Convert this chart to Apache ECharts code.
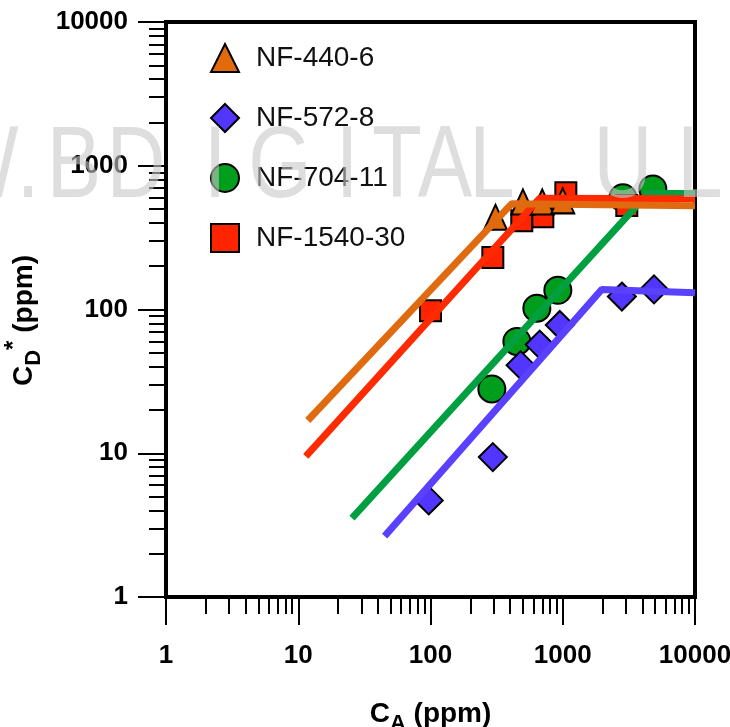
<!DOCTYPE html>
<html><head><meta charset="utf-8">
<script src="https://cdn.jsdelivr.net/npm/echarts@6/dist/echarts.min.js"></script>
<style>html,body{margin:0;padding:0;background:#fff}#c{width:730px;height:727px}</style>
</head><body><div id="c"></div>
<script>
// ---- data ----
const seriesNames = ['NF-440-6', 'NF-572-8', 'NF-704-11', 'NF-1540-30'];
const nf440Points  = [[310, 438], [500, 560], [700, 560], [1000, 570]];
const nf572Points  = [[97, 4.7], [296, 9.4], [480, 41], [670, 57], [950, 78], [2800, 123], [4900, 138]];
const nf704Points  = [[291, 28], [450, 60], [637, 102], [918, 136], [2850, 600], [4800, 690]];
const nf1540Points = [[100, 98], [296, 230], [490, 415], [707, 442], [1055, 649], [3050, 528]];
const nf440Fit  = [[11.8, 16.9], [412, 545], [10000, 527]];
const nf572Fit  = [[45, 2.65], [1975, 138], [10000, 131]];
const nf704Fit  = [[25.5, 3.54], [4400, 640], [10000, 640]];
const nf1540Fit = [[11.4, 9.5], [671, 595], [10000, 590]];
const watermarkChars = ['W', '.', 'B', 'D', 'I', 'G', 'I', 'T', 'A', 'L', 'U', 'L'];

// ---- presentation ----
const FF = '"Liberation Sans", Arial, Helvetica, sans-serif';
const watermarkX = [-20, 28, 74, 136, 215, 280, 347, 397, 445, 492, 623, 700];
const colors = {
  orange: '#E36A0A', blue: '#5236FF', green: '#009E1C', red: '#FF2400',
  orangeLine: '#E06A10', blueLine: '#5A40FF', greenLine: '#00A040', redLine: '#FF2A00'
};

function axisCommon() {
  return {
    type: 'log', logBase: 10, min: 1, max: 10000,
    axisLine: { show: true, onZero: false, lineStyle: { color: '#000', width: 4 } },
    axisTick: { show: true, length: 28, lineStyle: { color: '#000', width: 2 } },
    minorTick: { show: true, splitNumber: 9, length: 17, lineStyle: { color: '#000', width: 2 } },
    splitLine: { show: false }, minorSplitLine: { show: false },
    axisLabel: { fontSize: 26, fontWeight: 'bold', color: '#000', fontFamily: FF, formatter: v => String(v) },
    nameLocation: 'middle',
    nameTextStyle: {
      color: '#000', fontFamily: FF, fontWeight: 'bold', fontSize: 28,
      rich: {
        m: { fontSize: 28, fontWeight: 'bold', fontFamily: FF, color: '#000', lineHeight: 42, verticalAlign: 'middle' },
        s: { fontSize: 22, fontWeight: 'bold', fontFamily: FF, color: '#000', lineHeight: 22, verticalAlign: 'bottom' },
        p: { fontSize: 24, fontWeight: 'bold', fontFamily: FF, color: '#000', lineHeight: 22, verticalAlign: 'top' }
      }
    }
  };
}

const xAxis = Object.assign(axisCommon(), {
  name: '{m|C}{s|A}{m| (ppm)}', nameGap: 96
});
xAxis.axisLabel = Object.assign({}, xAxis.axisLabel, { margin: 46 });
const yAxis = Object.assign(axisCommon(), {
  name: '{m|C}{s|D}{p|*}{m| (ppm)}', nameGap: 118, nameRotate: 90
});
yAxis.nameTextStyle = Object.assign({}, yAxis.nameTextStyle, { padding: [0, 22, 0, 0] });
yAxis.axisLabel = Object.assign({}, yAxis.axisLabel, { margin: 38 });

function scatter(name, data, symbol, size, color) {
  return {
    type: 'scatter', name, data, symbol, symbolSize: size, z: 2,
    itemStyle: { color, borderColor: '#000', borderWidth: 2, opacity: 1 },
    emphasis: { disabled: true }
  };
}
function fit(name, data, color) {
  return {
    type: 'line', name: name + ' fit', data, symbol: 'none', showSymbol: false, z: 3,
    lineStyle: { color, width: 7 }, emphasis: { disabled: true }
  };
}

const option = {
  animation: false,
  backgroundColor: '#fff',
  grid: {
    left: 166, top: 22, width: 529, height: 575, containLabel: false, outerBoundsMode: 'none',
    show: true, borderColor: '#000', borderWidth: 4, backgroundColor: 'transparent'
  },
  xAxis, yAxis,
  legend: {
    orient: 'vertical', left: 205, top: 38, itemWidth: 28, itemHeight: 28, itemGap: 30,
    data: seriesNames, selectedMode: false,
    textStyle: { fontSize: 28, fontFamily: FF, color: '#111', padding: [0, 0, 0, 12] }
  },
  series: [
    scatter(seriesNames[2], nf704Points, 'circle', 27, colors.green),
    scatter(seriesNames[3], nf1540Points, 'rect', 21, colors.red),
    scatter(seriesNames[1], nf572Points, 'diamond', 28, colors.blue),
    scatter(seriesNames[0], nf440Points, 'triangle', [23, 25], colors.orange),
    fit(seriesNames[2], nf704Fit, colors.greenLine),
    fit(seriesNames[1], nf572Fit, colors.blueLine),
    fit(seriesNames[3], nf1540Fit, colors.redLine),
    fit(seriesNames[0], nf440Fit, colors.orangeLine)
  ],
  graphic: watermarkChars.map((ch, i) => ({
    type: 'text', x: watermarkX[i], y: 169, scaleX: 0.8, z: 100, silent: true,
    style: { text: ch, font: '102px ' + FF, fill: 'rgba(200,200,200,0.6)', align: 'center', verticalAlign: 'middle' }
  }))
};

const chart = echarts.init(document.getElementById('c'), null, { renderer: 'canvas', width: 730, height: 727 });
chart.setOption(option);
</script>
</body></html>
